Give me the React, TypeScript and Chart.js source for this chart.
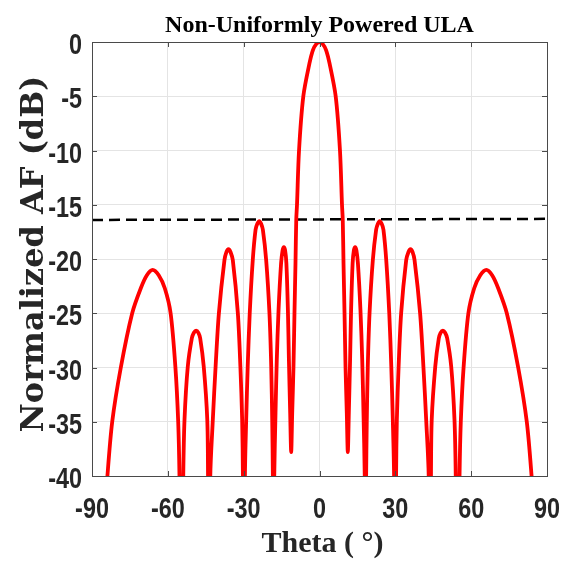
import React, { useEffect, useRef } from "react";
import { Chart, registerables } from "chart.js";

Chart.register(...registerables);

const titleText = "Non-Uniformly Powered ULA";
const xLabel = "Theta ( °)";
const yLabel = "Normalized AF (dB)";

const xTicks = [-90, -60, -30, 0, 30, 60, 90];
const yTicks = [-40, -35, -30, -25, -20, -15, -10, -5, 0];

// Theta (deg) samples of the array factor
const thetaDeg = [
  -86, -83.9, -82.0, -78.6, -74.1, -70.7, -68.3, -66.0, -63.6, -61.2, -58.9, -57.0, -55.9, -55.4, -54.6, -53.9,
  -53.4, -52.1, -50.5, -49.7, -48.8, -47.9, -47.2, -45.8, -44.4, -44.1, -43.7, -43.2, -42.2, -41.1, -39.8, -37.6,
  -36.8, -36.0, -35.2, -34.3, -32.3, -31.3, -30.6, -30.3, -29.9, -29.5, -29.0, -28.4, -27.6, -26.4, -25.3, -24.6,
  -23.8, -23.1, -22.4, -21.1, -19.8, -19.1, -18.7, -18.45, -18.2, -17.9, -17.4, -16.9, -16.2, -15.2, -14.6, -14.1,
  -13.6, -13.1, -12.5, -12.1, -11.6, -11.2, -10.8, -10.3, -9.9, -9.5, -9.2, -8.9, -8.1, -6.4, -4.0, -2.6, -1.3, 0,
  1.3, 2.6, 4.0, 6.4, 8.1, 8.9, 9.2, 9.5, 9.9, 10.3, 10.8, 11.2, 11.6, 12.1, 12.5, 13.1, 13.6,
  14.1, 14.6, 15.2, 16.2, 16.9, 17.4, 17.9, 18.2, 18.45, 18.7, 19.1, 19.8, 21.1, 22.4, 23.1, 23.8,
  24.6, 25.3, 26.4, 27.6, 28.4, 29.0, 29.5, 29.9, 30.3, 30.6, 31.3, 32.3, 34.3, 35.2, 36.0, 36.8,
  37.6, 39.8, 41.1, 42.2, 43.2, 43.7, 44.1, 44.4, 45.8, 47.2, 47.9, 48.8, 49.7, 50.5, 52.1, 53.4,
  53.9, 54.6, 55.4, 55.9, 57.0, 58.9, 61.2, 63.6, 66.0, 68.3, 70.7, 74.1, 78.6, 82.0, 83.9, 86,
];

// Normalized AF (dB) at each theta sample
const afDb = [
  -47, -40, -35, -30, -25, -22.7, -21.5, -21.0, -21.5, -22.7, -25, -30, -35, -40, -55, -40,
  -34.8, -29.9, -27.3, -26.8, -26.6, -26.8, -27.3, -29.9, -34.8, -40, -55, -40, -34.8, -29.9, -25, -20.1,
  -19.35, -19.1, -19.35, -20.1, -25, -29.9, -34.8, -40, -55, -40, -34.8, -29.9, -25, -20.1, -17.3, -16.75,
  -16.5, -16.75, -17.3, -20.1, -25, -29.9, -35, -40, -50, -40, -34.2, -29.3, -24.7, -20.4, -19.2, -18.9,
  -19.2, -20.4, -24.7, -29.3, -34.2, -37.8, -34.2, -30, -25, -20.4, -16.4, -15, -10, -5, -2.0, -0.74, -0.2, 0,
  -0.2, -0.74, -2.0, -5, -10, -15, -16.4, -20.4, -25, -30, -34.2, -37.8, -34.2, -29.3, -24.7, -20.4, -19.2,
  -18.9, -19.2, -20.4, -24.7, -29.3, -34.2, -40, -50, -40, -35, -29.9, -25, -20.1, -17.3, -16.75, -16.5,
  -16.75, -17.3, -20.1, -25, -29.9, -34.8, -40, -55, -40, -34.8, -29.9, -25, -20.1, -19.35, -19.1, -19.35,
  -20.1, -25, -29.9, -34.8, -40, -55, -40, -34.8, -29.9, -27.3, -26.8, -26.6, -26.8, -27.3, -29.9, -34.8,
  -40, -55, -40, -35, -30, -25, -22.7, -21.5, -21.0, -21.5, -22.7, -25, -30, -35, -40, -47,
];

// Dashed reference level (first sidelobe level)
const refTheta = [-90, 90];
const refDb = [-16.4, -16.3];

const TICK_FONT = "bold 30px 'Liberation Sans', Arial, sans-serif";
const TICK_SQUEEZE = 0.78;

const labelsPlugin = {
  id: "matlabFrame",
  afterDraw(chart: any) {
    const { ctx, chartArea } = chart;
    const xs = chart.scales.x;
    const ys = chart.scales.y;
    const { left, right, top, bottom } = chartArea;
    ctx.save();
    // box
    ctx.strokeStyle = "#4a4a4a";
    ctx.lineWidth = 1;
    ctx.strokeRect(Math.round(left) + 0.5, Math.round(top) + 0.5, Math.round(right - left), Math.round(bottom - top));
    // inward ticks
    ctx.beginPath();
    const tl = 5;
    xTicks.forEach((v) => {
      const px = Math.round(xs.getPixelForValue(v)) + 0.5;
      ctx.moveTo(px, bottom);
      ctx.lineTo(px, bottom - tl);
      ctx.moveTo(px, top);
      ctx.lineTo(px, top + tl);
    });
    yTicks.forEach((v) => {
      const py = Math.round(ys.getPixelForValue(v)) + 0.5;
      ctx.moveTo(left, py);
      ctx.lineTo(left + tl, py);
      ctx.moveTo(right, py);
      ctx.lineTo(right - tl, py);
    });
    ctx.stroke();

    // tick labels (condensed bold)
    ctx.fillStyle = "#262626";
    ctx.font = TICK_FONT;
    ctx.textBaseline = "alphabetic";
    ctx.save();
    ctx.scale(TICK_SQUEEZE, 1);
    ctx.textAlign = "right";
    yTicks.forEach((v) => {
      const py = ys.getPixelForValue(v);
      ctx.fillText(String(v), (left - 10) / TICK_SQUEEZE, py + 12);
    });
    ctx.textAlign = "center";
    xTicks.forEach((v) => {
      const px = xs.getPixelForValue(v);
      ctx.fillText(String(v), px / TICK_SQUEEZE, bottom + 42);
    });
    ctx.restore();

    // title
    const cx = (left + right) / 2;
    ctx.fillStyle = "#000000";
    ctx.textAlign = "center";
    ctx.textBaseline = "alphabetic";
    ctx.font = "bold 24px 'Liberation Serif', serif";
    ctx.fillText(titleText, cx, 32);

    // x label
    ctx.fillStyle = "#262626";
    ctx.font = "bold 30px 'Liberation Serif', serif";
    ctx.fillText(xLabel, cx + 3, 552);

    // y label
    ctx.save();
    ctx.translate(43, (top + bottom) / 2 - 5);
    ctx.rotate(-Math.PI / 2);
    ctx.font = "bold 32px 'DejaVu Serif', serif";
    ctx.fillText(yLabel, 0, 0);
    ctx.restore();
    ctx.restore();
  },
};

export default function App() {
  const canvasRef = useRef<HTMLCanvasElement | null>(null);

  useEffect(() => {
    document.body.style.margin = "0";
    const canvas = canvasRef.current;
    if (!canvas) return;
    const chart = new Chart(canvas, {
      type: "line",
      data: {
        datasets: [
          {
            label: "AF",
            data: thetaDeg.map((t, i) => ({ x: t, y: afDb[i] })),
            borderColor: "rgb(255,0,0)",
            borderWidth: 3.8,
            pointRadius: 0,
            tension: 0.3,
            fill: false,
          },
          {
            label: "SLL",
            data: refTheta.map((t, i) => ({ x: t, y: refDb[i] })),
            borderColor: "#000000",
            borderWidth: 2.5,
            borderDash: [11, 6],
            pointRadius: 0,
            tension: 0,
            fill: false,
          },
        ],
      },
      options: {
        animation: false,
        responsive: false,
        devicePixelRatio: 1,
        layout: { padding: { top: 42, right: 17, left: 0, bottom: 0 } },
        plugins: {
          legend: { display: false },
          title: { display: false },
          tooltip: { enabled: false },
        },
        scales: {
          x: {
            type: "linear",
            min: -90,
            max: 90,
            afterFit: (s: any) => {
              s.height = 88;
              s.paddingLeft = 0;
              s.paddingRight = 0;
            },
            afterBuildTicks: (s: any) => {
              s.ticks = xTicks.map((v) => ({ value: v }));
            },
            grid: { color: "#e4e4e4", drawTicks: false, lineWidth: 1 },
            border: { display: false },
            ticks: { display: false },
          },
          y: {
            type: "linear",
            min: -40,
            max: 0,
            afterFit: (s: any) => {
              s.width = 92;
              s.paddingTop = 0;
              s.paddingBottom = 0;
            },
            afterBuildTicks: (s: any) => {
              s.ticks = yTicks.map((v) => ({ value: v }));
            },
            grid: { color: "#e4e4e4", drawTicks: false, lineWidth: 1 },
            border: { display: false },
            ticks: { display: false },
          },
        },
      },
      plugins: [labelsPlugin],
    });
    return () => chart.destroy();
  }, []);

  return (
    <div style={{ width: 564, height: 564, background: "#ffffff" }}>
      <canvas ref={canvasRef} width={564} height={564} style={{ display: "block", width: 564, height: 564 }} />
    </div>
  );
}
